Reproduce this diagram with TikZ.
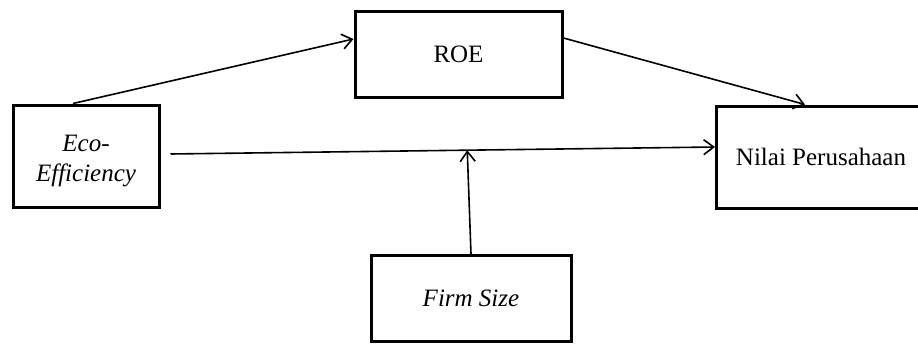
\documentclass[tikz,border=0pt]{standalone}
\usepackage{fontspec}
\setmainfont{Liberation Serif}
\usetikzlibrary{arrows.meta}
\begin{document}
\begin{tikzpicture}[x=1pt,y=-1pt,
  boxnode/.style={draw=black, line width=3pt, fill=white, inner sep=0pt,
    font=\fontsize{25}{29.5}\selectfont, align=center},
  labeltext/.style={inner sep=0pt, font=\fontsize{25}{29.5}\selectfont, align=center},
  conn/.style={line width=1.6pt, -{Straight Barb[length=10pt,width=15pt,line width=1.6pt]}}]
\clip (0,0) rectangle (918,345);
\fill[white] (0,0) rectangle (918,345);
\node[boxnode, minimum width=146pt, minimum height=102pt] (eco) at (86.5,156) {};
\node[labeltext] (ecotext) at (86,161) {\itshape Eco-\\\itshape Efficiency};
\node[boxnode, minimum width=207pt, minimum height=85pt] (roe) at (458.5,54.5) {ROE};
\node[boxnode, minimum width=209pt, minimum height=102pt] (nilai) at (821,157) {Nilai Perusahaan};
\node[boxnode, minimum width=200pt, minimum height=86pt] (firm) at (471,298.5) {\itshape Firm Size};
\draw[conn] ([xshift=-13.5pt]eco.north) -- ([yshift=15.5pt]roe.west);
\draw[conn] ([yshift=16.5pt]roe.east) -- ([xshift=-16pt]nilai.north);
\coordinate (hs) at ([xshift=9.5pt,yshift=2pt]eco.east);
\draw[conn] (hs) -- ([yshift=10pt]nilai.west) coordinate[pos=0.545] (m);
\draw[conn] (firm.north) -- (m);
\end{tikzpicture}
\end{document}
